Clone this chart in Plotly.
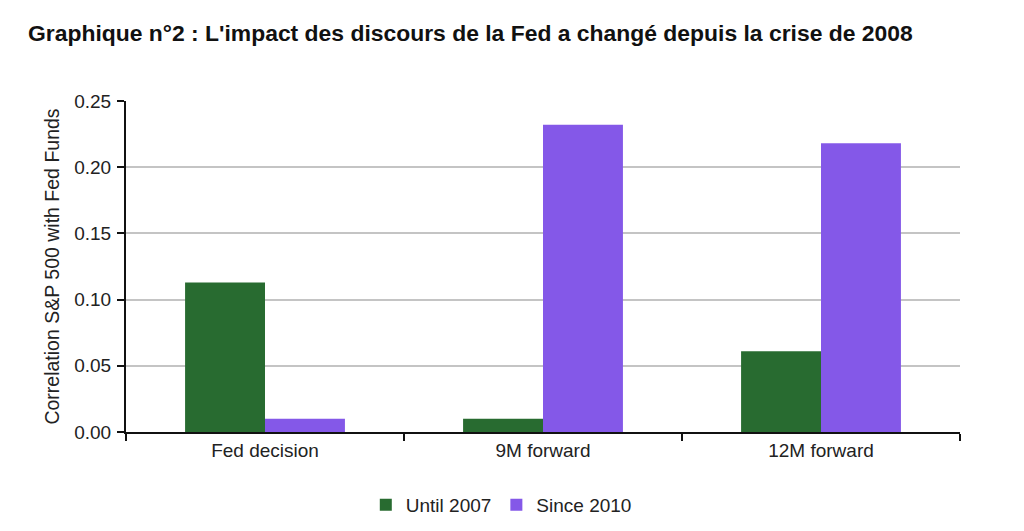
"""
Bar chart: correlation of the S&P 500 with Fed Funds, before and after 2008.
"""
import plotly.graph_objects as go

# Data
CATEGORIES = ['Fed decision', '9M forward', '12M forward']
UNTIL_2007 = [0.113, 0.010, 0.061]
SINCE_2010 = [0.010, 0.232, 0.218]
Y_TICKS = [0.00, 0.05, 0.10, 0.15, 0.20, 0.25]

COLORS = {
    'until': '#286b30',
    'since': '#8458e8',
    'grid': '#c4c4c4',
    'axis': '#111111',
    'text': '#222222',
}

FONT = "Liberation Sans, Arial, sans-serif"

# the page puts the figure 8px in from the top left corner
FIG_W, FIG_H = 1016, 523
PLOT_L, PLOT_T, PLOT_R, PLOT_B = 118, 93, 952, 424

fig = go.Figure()

fig.add_trace(go.Bar(
    x=CATEGORIES,
    y=UNTIL_2007,
    name='Until 2007',
    marker=dict(color=COLORS['until'], line=dict(width=0)),
))
fig.add_trace(go.Bar(
    x=CATEGORIES,
    y=SINCE_2010,
    name='Since 2010',
    marker=dict(color=COLORS['since'], line=dict(width=0)),
))

fig.update_layout(
    width=FIG_W,
    height=FIG_H,
    margin=dict(l=PLOT_L, r=FIG_W - PLOT_R, t=PLOT_T, b=FIG_H - PLOT_B, autoexpand=False),
    barmode='group',
    bargap=0.425,
    bargroupgap=0,
    paper_bgcolor='white',
    plot_bgcolor='white',
    font=dict(family=FONT, size=19, color=COLORS['text']),
    title=dict(
        text="<b>Graphique n°2 : L'impact des discours de la Fed a changé depuis la crise de 2008</b>",
        x=20 / FIG_W,
        xanchor='left',
        y=1 - 25 / FIG_H,
        yanchor='middle',
        font=dict(family=FONT, size=22.9, color='#111111'),
    ),
    legend=dict(
        orientation='h',
        x=0.45,
        xanchor='center',
        y=-0.22,
        yanchor='middle',
        font=dict(size=19, color=COLORS['text']),
        itemwidth=30,
        traceorder='normal',
    ),
    showlegend=True,
)

fig.update_xaxes(
    showline=True,
    linecolor=COLORS['axis'],
    linewidth=2,
    ticks='outside',
    tickson='boundaries',
    ticklen=7,
    tickwidth=2,
    tickcolor=COLORS['axis'],
    showgrid=False,
    tickfont=dict(size=19, color=COLORS['text']),
)

fig.update_yaxes(
    range=[0, 0.25],
    tickvals=Y_TICKS,
    tickformat='.2f',
    showline=True,
    linecolor=COLORS['axis'],
    linewidth=2,
    ticks='outside',
    ticklen=7,
    ticklabelstandoff=2,
    tickwidth=2,
    tickcolor=COLORS['axis'],
    showgrid=True,
    gridcolor=COLORS['grid'],
    gridwidth=2,
    zeroline=False,
    tickfont=dict(size=19, color=COLORS['text']),
    title=dict(text='Correlation S&P 500 with Fed Funds', font=dict(size=19.5, color=COLORS['text']), standoff=9),
)

fig.write_html("out.html")
